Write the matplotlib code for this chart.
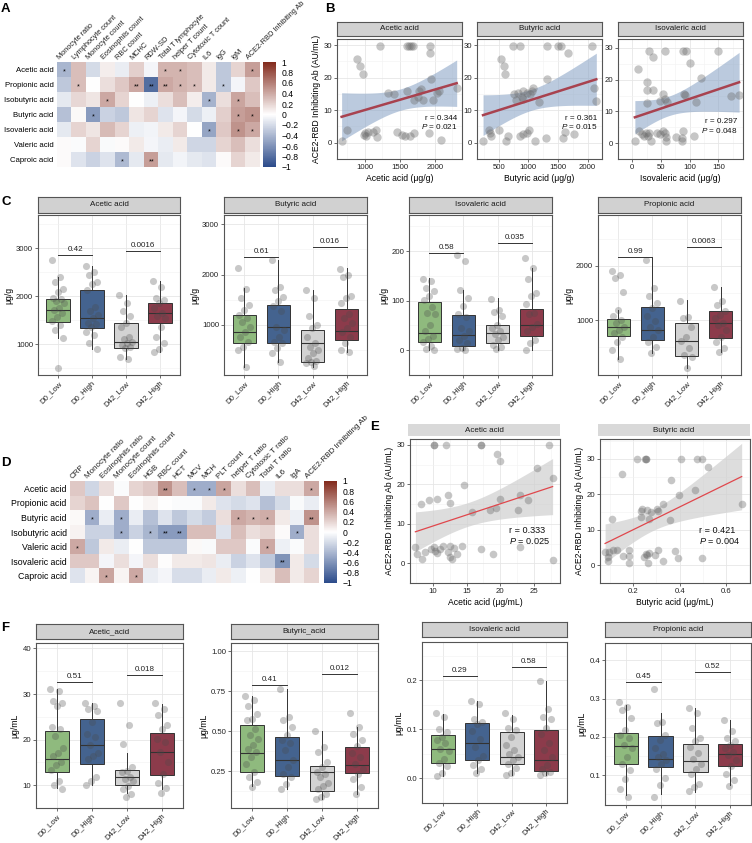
import numpy as np
import matplotlib
matplotlib.use('Agg')
import matplotlib.pyplot as plt
from matplotlib.colors import LinearSegmentedColormap

plt.rcParams['font.family'] = ['Liberation Sans', 'DejaVu Sans']
plt.rcParams['mathtext.fontset'] = 'custom'
plt.rcParams['mathtext.rm'] = 'Liberation Sans'
plt.rcParams['mathtext.it'] = 'Liberation Sans:italic'
plt.rcParams['axes.unicode_minus'] = True

W, H = 752, 843

##### DATA #####
# --- panel A: correlation heatmap (faecal SCFA vs. blood/immune markers)
a_rows = ["Acetic acid", "Propionic acid", "Isobutyric acid", "Butyric acid",
          "Isovaleric acid", "Valeric acid", "Caproic acid"]
a_cols = ["Monocyte ratio", "Lymphocyte count", "Monocyte count", "Eosinophils count",
          "RBC count", "MCHC", "RDW-SD", "Total T lymphocyte", "helper T count",
          "Cytotoxic T count", "IL6", "IgG", "IgM", "ACE2-RBD Inhibiting Ab"]
a_vals = [
    [-0.40, 0.30, -0.20, 0.08, -0.10, 0.22, -0.05, 0.35, 0.35, 0.30, 0.10, -0.30, 0.20, 0.45],
    [-0.30, 0.30, 0.00, 0.15, 0.25, 0.40, -0.80, 0.40, 0.35, 0.30, 0.10, -0.30, -0.05, 0.25],
    [-0.12, 0.18, 0.12, 0.40, 0.20, 0.00, -0.08, 0.15, 0.30, 0.08, -0.42, 0.15, 0.42, 0.30],
    [-0.35, 0.03, -0.55, -0.25, -0.30, 0.12, 0.20, -0.15, -0.05, -0.20, -0.08, 0.22, 0.45, 0.50],
    [-0.12, 0.20, 0.12, 0.32, 0.20, -0.08, -0.06, 0.10, 0.20, 0.00, -0.50, 0.25, 0.50, 0.40],
    [0.02, -0.02, 0.20, -0.03, 0.02, 0.10, -0.05, -0.10, 0.10, -0.22, -0.22, 0.20, 0.30, 0.15],
    [0.02, -0.15, -0.25, -0.15, -0.38, -0.12, 0.45, -0.12, -0.06, -0.12, -0.15, 0.02, 0.20, 0.10],
]
# number of stars per cell
a_stars = ["10000001100001", "01000222110100", "00010000001010", "00100000000011",
           "00000000001011", "00000000000000", "00001020000000"]

# --- panel B: faecal SCFA vs ACE2-RBD inhibiting Ab
b_acetic_x = [1218, 1609, 1637, 1661, 1685, 1932, 1932, 885, 933, 971, 1942, 2314, 1800, 1780,
              1327, 1418, 1600, 2037, 2066, 1704, 1837, 1971, 1766, 670, 751, 1004, 1018, 989,
              1052, 1123, 1161, 1180, 1466, 1527, 1576, 1646, 1709, 1918, 2085]
b_acetic_y = [29.8, 29.8, 29.8, 29.8, 29.8, 29.8, 27.6, 25.6, 23.7, 21.1, 19.5, 16.7, 16.4, 15.8,
              15.3, 14.9, 15.8, 15.2, 15.8, 13.1, 13.1, 13.1, 14.2, 0.6, 4.0, 3.1, 2.0, 2.5,
              3.4, 3.4, 3.8, 1.8, 3.4, 2.5, 2.0, 2.0, 2.9, 3.1, 0.9]
b_butyric_x = [732, 857, 1309, 1507, 1547, 2073, 1677, 545, 585, 602, 1309, 2102, 2147, 913,
               828, 970, 1055, 1083, 755, 789, 913, 1185, 885, 1026, 234, 336, 347, 375, 506,
               658, 630, 857, 902, 970, 1015, 1111, 1298, 1621, 1581, 1762]
b_butyric_y = [29.8, 29.8, 29.8, 29.8, 29.8, 29.8, 27.6, 25.6, 23.7, 21.1, 19.5, 16.7, 12.8, 15.8,
               15.2, 15.2, 16.0, 16.7, 14.9, 13.2, 13.4, 12.4, 14.2, 15.1, 0.6, 4.0, 3.1, 2.0, 3.8,
               2.0, 0.4, 2.2, 2.7, 3.1, 3.8, 0.6, 1.5, 3.4, 1.5, 2.7]
b_isoval_x = [29.6, 56.7, 89.0, 92.8, 150.0, 9.7, 36.7, 101.4, 25.9, 119.8, 25.9, 36.7, 52.8, 90.6,
              91.7, 56.7, 60.4, 48.6, 25.9, 110.6, 171.6, 186.2, 4.4, 10.8, 16.2, 20.5, 24.2,
              26.9, 29.6, 32.4, 43.2, 48.6, 52.8, 56.7, 58.3, 59.4, 75.6, 86.3, 87.4, 89.1, 107.7]
b_isoval_y = [29.1, 29.1, 29.1, 29.1, 29.1, 23.4, 27.0, 25.1, 19.2, 20.5, 16.6, 16.6, 15.6, 15.6,
              15.1, 13.9, 12.8, 13.2, 12.5, 12.8, 14.7, 15.1, 0.7, 3.8, 2.8, 2.4, 3.1,
              2.4, 3.3, 0.7, 3.1, 2.8, 3.8, 3.3, 1.9, 0.7, 1.9, 1.6, 0.7, 3.8, 2.4]
b_stats = ["r = 0.344\n$\\it{P}$ = 0.021", "r = 0.361\n$\\it{P}$ = 0.015", "r = 0.297\n$\\it{P}$ = 0.048"]

# --- box plot groups
groups = ["D0_Low", "D0_High", "D42_Low", "D42_High"]
# box stats: [q1, median, q3, whisker low, whisker high]
# --- panel C: faecal SCFA (ug/g)
c_acetic_box = [[1467, 1704, 1934, 1132, 2394], [1330, 1535, 2129, 888, 2631],
                [925, 1049, 1446, 679, 2025], [1430, 1645, 1855, 826, 2324]]
c_acetic_pts = [[2756, 2394, 2303, 2143, 2094, 1969, 1934, 1899, 1850, 1746, 1711, 1641, 1572, 1481, 1397, 1293, 1132, 505],
                [2631, 2512, 2443, 2303, 2248, 2129, 1781, 1697, 1606, 1551, 1446, 1418, 1362, 1244, 1188, 1014, 888],
                [2025, 1864, 1690, 1585, 1432, 1362, 1153, 1098, 1049, 1014, 979, 944, 909, 735, 679],
                [2324, 2199, 1955, 1920, 1850, 1746, 1655, 1585, 1537, 1349, 1153, 1014, 888, 826]]
c_acetic_sig = [2861, 2952]
c_acetic_p = ["0.42", "0.0016"]

c_butyric_box = [[636, 870, 1200, 170, 1730], [636, 965, 1400, 270, 2290],
                 [270, 650, 900, 170, 1700], [700, 880, 1320, 470, 2125]]
c_butyric_pts = [[2140, 1715, 1540, 1400, 1300, 1200, 1130, 1065, 965, 870, 770, 670, 570, 500, 170],
                 [2290, 1760, 1700, 1560, 1480, 1385, 1285, 965, 910, 770, 670, 636, 535, 440, 270],
                 [1700, 1530, 1180, 1000, 935, 770, 650, 570, 500, 440, 340, 290, 270, 240, 185],
                 [2110, 2000, 1950, 1575, 1530, 1430, 1210, 1130, 1030, 935, 870, 770, 636, 500, 455]]
c_butyric_sig = [2344, 2543]
c_butyric_p = ["0.61", "0.016"]

c_isoval_box = [[17, 35, 97, 0, 145], [8, 30, 72, 0, 122],
                [15, 35, 50, 0, 106], [28, 51, 84, 0, 166]]
c_isoval_pts = [[143, 140, 125, 119, 109, 102, 87, 76, 73, 50, 39, 29, 23, 17, 8, 2, 0],
                [193, 180, 122, 106, 90, 73, 67, 44, 38, 29, 21, 14, 5, 2, 0],
                [103, 81, 78, 69, 50, 44, 38, 32, 27, 20, 11, 7, 2],
                [186, 166, 143, 115, 109, 94, 76, 73, 53, 47, 38, 20, 14, 0]]
c_isoval_sig = [196, 217]
c_isoval_p = ["0.58", "0.035"]

c_propio_box = [[710, 877, 1020, 272, 1185], [630, 815, 1247, 383, 2140],
                [333, 617, 938, 105, 1370], [660, 938, 1167, 414, 1617]]
c_propio_pts = [[1907, 1833, 1772, 1525, 1185, 1074, 1000, 938, 877, 815, 753, 691, 599, 444, 272],
                [2111, 1599, 1444, 1309, 1216, 1074, 981, 877, 815, 691, 599, 506, 383],
                [1352, 1062, 1031, 877, 691, 617, 475, 352, 321, 105],
                [1617, 1352, 1278, 1173, 1093, 1031, 951, 907, 815, 691, 599, 475, 414]]
c_propio_sig = [2160, 2358]
c_propio_p = ["0.99", "0.0063"]

# --- panel D: plasma SCFA heatmap
d_rows = ["Acetic acid", "Propionic acid", "Butyric acid", "Isobutyric acid",
          "Valeric acid", "Isovaleric acid", "Caproic acid"]
d_cols = ["CRP", "Monocyte ratio", "Eosinophils ratio", "Monocyte count", "Eosinophils count",
          "HGB", "RBC count", "HCT", "MCV", "MCH", "PLT count", "helper T ratio",
          "Cytotoxic T ratio", "Total T ratio", "IL6", "IgA", "ACE2-RBD Inhibiting Ab"]
d_vals = [
    [0.25, -0.22, 0.15, -0.02, 0.20, 0.25, 0.50, 0.30, -0.45, -0.45, 0.42, 0.15, 0.30, -0.10, 0.15, 0.15, 0.40],
    [0.20, 0.28, 0.00, 0.25, 0.00, 0.05, 0.00, -0.02, -0.02, 0.10, -0.15, -0.20, -0.15, -0.35, -0.20, -0.03, -0.10],
    [0.03, -0.45, -0.10, -0.45, -0.10, -0.35, -0.15, -0.30, -0.20, -0.28, 0.15, 0.40, 0.35, 0.38, 0.10, -0.08, 0.50],
    [0.06, -0.25, -0.25, -0.45, -0.25, -0.40, -0.55, -0.55, 0.30, 0.30, -0.15, 0.30, 0.15, 0.20, 0.02, -0.45, 0.15],
    [0.40, -0.30, 0.10, -0.10, 0.00, -0.30, -0.30, -0.30, 0.03, -0.03, 0.25, 0.25, -0.02, 0.40, -0.08, -0.02, 0.15],
    [0.25, 0.25, -0.05, 0.15, -0.05, 0.15, 0.01, 0.10, 0.10, 0.12, -0.10, -0.25, -0.15, -0.30, -0.60, 0.10, -0.20],
    [-0.15, 0.05, 0.42, 0.05, 0.40, -0.10, -0.05, -0.18, -0.18, -0.10, 0.10, -0.08, 0.00, 0.10, 0.30, 0.10, 0.20],
]
d_stars = ["00000020111000001", "00000000000000000", "01010000000111002", "00010122000000010",
           "10000000000001000", "00000000000000200", "00101000000000000"]

# --- panel E: plasma SCFA vs ACE2-RBD inhibiting Ab
e_acetic_x = [10.1, 10.2, 12.0, 17.1, 17.2, 27.3, 19.6, 20.0, 25.5, 27.8, 14.7, 12.2, 23.0, 10.6,
              20.0, 24.2, 9.4, 8.3, 12.6, 15.8, 18.5, 19.4, 22.7, 7.4, 7.7, 8.4, 8.9, 9.7, 10.1,
              10.3, 10.6, 11.1, 11.5, 12.2, 12.5, 12.6, 12.8, 13.1, 13.6, 14.3, 17.1, 19.0, 23.0, 27.8]
e_acetic_y = [30, 30, 30, 30, 30, 30, 27.8, 25.9, 24.1, 21.5, 19.9, 17.3, 17.2, 16.4,
              16.2, 16.0, 16.0, 15.1, 15.4, 13.0, 13.4, 13.9, 13.4, 4.2, 2.3, 1.0, 2.9, 3.6, 4.0,
              3.2, 2.5, 3.5, 4.5, 2.9, 1.5, 4.5, 1.2, 3.8, 2.3, 4.5, 3.5, 2.3, 4.2, 0.8]
e_butyric_x = [0.214, 0.250, 0.255, 0.256, 0.406, 0.473, 0.495, 0.524, 0.150, 0.361, 0.466, 0.399,
               0.668, 0.327, 0.236, 0.301, 0.257, 0.232, 0.276, 0.308, 0.232, 0.269, 0.358, 0.106,
               0.078, 0.096, 0.114, 0.128, 0.092, 0.092, 0.157, 0.183, 0.183, 0.183, 0.253, 0.257,
               0.248, 0.269, 0.264, 0.294, 0.308, 0.329, 0.380, 0.394, 0.495]
e_butyric_y = [30, 30, 30, 30, 30, 30, 30, 27.8, 25.7, 24.1, 21.3, 19.8,
               17.2, 17.2, 16.0, 16.0, 15.6, 15.2, 15.0, 15.4, 13.7, 13.1, 12.8, 13.1,
               3.7, 3.7, 4.2, 4.4, 2.4, 1.1, 2.6, 4.3, 2.7, 0.7, 3.3, 2.9,
               2.4, 3.5, 0.5, 2.9, 4.2, 1.3, 3.9, 2.0, 2.0]
e_stats = ["r = 0.333\n$\\it{P}$ = 0.025", "r = 0.421\n$\\it{P}$ = 0.004"]

# --- panel F: plasma SCFA (ug/mL)
f_acetic_box = [[12.8, 15.8, 22.0, 9.4, 31.0], [14.7, 18.9, 24.5, 10.1, 28.1],
                [10.1, 11.9, 13.4, 8.3, 17.0], [12.2, 17.2, 21.5, 9.1, 27.8]]
f_acetic_pts = [[31.2, 30.6, 28.5, 28.1, 27.3, 22.7, 22.4, 20.9, 18.2, 17.0, 16.3, 15.2, 14.5, 13.4, 10.9, 10.1, 9.1],
                [28.1, 27.3, 26.7, 26.3, 23.8, 21.3, 20.6, 18.8, 17.0, 16.4, 15.7, 11.9, 10.9, 10.1],
                [28.1, 23.2, 19.1, 14.1, 13.2, 12.9, 11.9, 11.4, 10.9, 9.9, 9.1, 8.1, 7.4],
                [28.1, 26.7, 25.4, 23.2, 22.4, 20.1, 19.5, 17.3, 15.2, 12.4, 10.5, 9.4, 8.3]]
f_acetic_sig = [32.6, 34.2]
f_acetic_p = ["0.51", "0.018"]

f_butyric_box = [[0.246, 0.366, 0.537, 0.156, 0.718], [0.219, 0.319, 0.464, 0.142, 0.766],
                 [0.125, 0.244, 0.283, 0.080, 0.500], [0.240, 0.292, 0.402, 0.107, 0.527]]
f_butyric_pts = [[0.718, 0.693, 0.655, 0.610, 0.578, 0.568, 0.516, 0.475, 0.454, 0.412, 0.391, 0.370, 0.339, 0.298, 0.246, 0.215, 0.183, 0.152],
                 [0.766, 0.589, 0.568, 0.527, 0.475, 0.443, 0.427, 0.381, 0.319, 0.277, 0.235, 0.215, 0.173, 0.142],
                 [0.500, 0.402, 0.370, 0.308, 0.277, 0.246, 0.231, 0.215, 0.179, 0.158, 0.142, 0.111, 0.090, 0.080],
                 [0.614, 0.527, 0.485, 0.448, 0.406, 0.366, 0.339, 0.298, 0.267, 0.235, 0.204, 0.152, 0.107]]
f_butyric_sig = [0.786, 0.859]
f_butyric_p = ["0.41", "0.012"]

f_isoval_box = [[0.031, 0.059, 0.088, 0.005, 0.131], [0.037, 0.072, 0.112, 0.011, 0.158],
                [0.030, 0.043, 0.094, 0.008, 0.129], [0.016, 0.037, 0.098, 0.008, 0.199]]
f_isoval_pts = [[0.133, 0.125, 0.100, 0.094, 0.084, 0.078, 0.072, 0.059, 0.055, 0.040, 0.031, 0.025, 0.012, 0.005],
                [0.158, 0.152, 0.122, 0.115, 0.111, 0.096, 0.081, 0.064, 0.046, 0.037, 0.028, 0.019, 0.011],
                [0.133, 0.121, 0.102, 0.098, 0.084, 0.069, 0.058, 0.049, 0.043, 0.037, 0.030, 0.022, 0.011, 0.008],
                [0.199, 0.141, 0.125, 0.122, 0.102, 0.090, 0.072, 0.058, 0.043, 0.028, 0.019, 0.014, 0.011, 0.008]]
f_isoval_sig = [0.209, 0.227]
f_isoval_p = ["0.29", "0.58"]

f_propio_box = [[0.128, 0.177, 0.210, 0.048, 0.283], [0.122, 0.141, 0.203, 0.052, 0.261],
                [0.109, 0.137, 0.181, 0.057, 0.274], [0.124, 0.154, 0.181, 0.074, 0.243]]
f_propio_pts = [[0.291, 0.278, 0.270, 0.248, 0.217, 0.204, 0.196, 0.178, 0.170, 0.148, 0.130, 0.113, 0.091, 0.065, 0.043],
                [0.326, 0.239, 0.235, 0.204, 0.191, 0.170, 0.155, 0.148, 0.139, 0.130, 0.115, 0.093, 0.074, 0.043],
                [0.274, 0.263, 0.222, 0.196, 0.190, 0.174, 0.158, 0.141, 0.130, 0.117, 0.104, 0.078, 0.070, 0.059],
                [0.245, 0.215, 0.196, 0.190, 0.178, 0.170, 0.161, 0.152, 0.139, 0.124, 0.104, 0.087, 0.071]]
f_propio_sig = [0.342, 0.370]
f_propio_p = ["0.45", "0.52"]

##### STYLE #####
box_colors = ['#8FBA7E', '#44638F', '#D3D3D3', '#8C3B4B']
border_c = '#555555'
cmap = LinearSegmentedColormap.from_list('corr', ['#2B4B8A', '#FFFFFF', '#822A1C'])

fig = plt.figure(figsize=(W / 100, H / 100), dpi=100)


def add_ax(x0, y0, x1, y1):
    # pixel box (top-left origin) -> figure axes
    return fig.add_axes([x0 / W, 1 - y1 / H, (x1 - x0) / W, (y1 - y0) / H])


def strip(x0, y0, x1, y1, label, fc='#D1D1D1', edge=True):
    s = add_ax(x0, y0, x1, y1)
    s.set_facecolor(fc)
    s.set_xticks([])
    s.set_yticks([])
    for sp in s.spines.values():
        sp.set_visible(edge)
        sp.set_color(border_c)
        sp.set_linewidth(0.8)
    s.text(0.5, 0.5, label, ha='center', va='center', fontsize=5.8, color='#1A1A1A')


def style(ax, xminor=None, yminor=None):
    for sp in ax.spines.values():
        sp.set_color(border_c)
        sp.set_linewidth(0.8)
    if xminor is not None:
        ax.set_xticks(xminor, minor=True)
    if yminor is not None:
        ax.set_yticks(yminor, minor=True)
    ax.grid(which='major', color='#E6E6E6', lw=0.6)
    ax.grid(which='minor', color='#F2F2F2', lw=0.4)
    ax.set_axisbelow(True)
    ax.tick_params(which='major', labelsize=5.6, length=2, width=0.5, color='#333333',
                   pad=1.5, labelcolor='#222222')
    ax.tick_params(which='minor', length=0)


def midpoints(ticks, lim):
    step = ticks[1] - ticks[0]
    return np.arange(ticks[0] - step / 2, lim[1], step)


def heatmap(box, cbox, vals, stars, rows, cols, rfs, cfs):
    ax = add_ax(*box)
    im = ax.imshow(np.array(vals), cmap=cmap, vmin=-1, vmax=1, aspect='auto',
                   interpolation='nearest')
    ax.set_xticks([])
    ax.set_yticks(range(len(rows)))
    ax.set_yticklabels(rows, fontsize=rfs)
    ax.tick_params(axis='y', length=0, pad=2.5)
    for sp in ax.spines.values():
        sp.set_visible(False)
    for j, c in enumerate(cols):
        ax.text(j - 0.2, -0.55, c, rotation=45, ha='left', va='bottom',
                rotation_mode='anchor', fontsize=cfs, color='#222222')
    for i, row in enumerate(stars):
        for j, ch in enumerate(row):
            if ch != '0':
                ax.text(j, i + 0.15, '*' * int(ch), ha='center', va='center', fontsize=5.2)
    cax = add_ax(*cbox)
    cb = fig.colorbar(im, cax=cax, ticks=np.linspace(-1, 1, 11))
    labs = ['%g' % round(t, 1) for t in np.linspace(-1, 1, 11)]
    cb.ax.set_yticklabels([l.replace('-', '\u2212') for l in labs])
    cb.ax.tick_params(labelsize=6.2, length=2, width=0.5, color='white', pad=2)
    cb.outline.set_visible(False)


def fit_band(x, y):
    x = np.asarray(x, float)
    y = np.asarray(y, float)
    b, a = np.polyfit(x, y, 1)
    xs = np.linspace(x.min(), x.max(), 100)
    yh = a + b * xs
    n = len(x)
    s = np.sqrt(np.sum((y - (a + b * x)) ** 2) / (n - 2))
    se = s * np.sqrt(1 / n + (xs - x.mean()) ** 2 / np.sum((x - x.mean()) ** 2))
    return xs, yh, yh - 2.02 * se, yh + 2.02 * se


def scatter_panel(box, sbox, title, x, y, xlim, ylim, xticks, yticks, xlabel, ylabel,
                  stat, tpos, tha, lc, lw, bc, ba, scol, ssize, sfc, sedge, tfs, xtl=None):
    strip(*sbox, title, fc=sfc, edge=sedge)
    ax = add_ax(*box)
    ax.set_xlim(xlim)
    ax.set_ylim(ylim)
    ax.set_xticks(xticks)
    if xtl is not None:
        ax.set_xticklabels(xtl)
    ax.set_yticks(yticks)
    style(ax, midpoints(xticks, xlim), midpoints(yticks, ylim))
    xs, yh, lo, hi = fit_band(x, y)
    ax.fill_between(xs, lo, hi, color=bc, alpha=ba, lw=0, zorder=2)
    ax.scatter(x, y, s=ssize, color=scol, alpha=0.38, lw=0, zorder=3)
    ax.plot(xs, yh, color=lc, lw=lw, zorder=4)
    ax.text(tpos[0], tpos[1], stat, transform=ax.transAxes, ha=tha, va='center',
            multialignment=tha, fontsize=tfs, linespacing=1.05, color='#111111', zorder=5)
    ax.set_xlabel(xlabel, fontsize=6.2, labelpad=2)
    if ylabel:
        ax.set_ylabel(ylabel, fontsize=6.2, labelpad=2)
    return ax


def box_panel(box, sbox, title, stats, pts, sig, pvals, ylim, yticks, ylabel, ytl=None):
    strip(*sbox, title)
    ax = add_ax(*box)
    ax.set_xlim(0.4, 4.6)
    ax.set_ylim(ylim)
    ax.set_yticks(yticks)
    if ytl is not None:
        ax.set_yticklabels(ytl)
    style(ax, None, midpoints(yticks, ylim))
    bst = [dict(q1=s[0], med=s[1], q3=s[2], whislo=s[3], whishi=s[4], fliers=[]) for s in stats]
    bp = ax.bxp(bst, positions=[1, 2, 3, 4], widths=0.7, patch_artist=True, showcaps=False,
                boxprops=dict(lw=0.7, edgecolor='#333333'),
                medianprops=dict(color='#333333', lw=0.8),
                whiskerprops=dict(color='#333333', lw=0.7), zorder=2)
    for patch, c in zip(bp['boxes'], box_colors):
        patch.set_facecolor(c)
    for i, ys in enumerate(pts):
        k = np.arange(len(ys))
        offs = ((k * 0.618) % 1 - 0.5) * 0.38
        ax.scatter(i + 1 + offs, ys, s=26, color='#4A4A4A', alpha=0.3, lw=0, zorder=3)
    for (g0, g1), yb, p in zip([(1, 2), (3, 4)], sig, pvals):
        ax.plot([g0, g1], [yb, yb], color='#333333', lw=0.7, zorder=4)
        ax.annotate(p, ((g0 + g1) / 2, yb), xytext=(0, 1.5), textcoords='offset points',
                    ha='center', va='bottom', fontsize=5.8, color='#222222')
    ax.set_xticks([1, 2, 3, 4])
    ax.set_xticklabels(groups, rotation=45, ha='right', rotation_mode='anchor')
    ax.set_ylabel(ylabel, fontsize=6.2, labelpad=2)
    return ax


##### PANEL A #####
heatmap((57, 62, 260, 167), (263, 62, 276, 167), a_vals, a_stars, a_rows, a_cols, 5.6, 5.3)

##### PANEL B #####
yl_b = "ACE2-RBD Inhibiting Ab (AU/mL)"
bkw = dict(tha='right', lc='#A8424F', lw=1.8, bc='#8EA7C8', ba=0.6, scol='#6A6A6A', ssize=36,
           sfc='#D1D1D1', sedge=True, tfs=5.9)
scatter_panel((337, 39, 462, 159), (337, 22, 462, 36), "Acetic acid", b_acetic_x, b_acetic_y,
              (604, 2390), (-1.2, 31.9), [1000, 1500, 2000], [0, 10, 20, 30],
              "Acetic acid (\u03bcg/g)", yl_b, b_stats[0], (0.965, 0.30), **bkw)
scatter_panel((477, 39, 602, 159), (477, 22, 602, 36), "Butyric acid", b_butyric_x, b_butyric_y,
              (132, 2243), (-1.2, 31.9), [500, 1000, 1500, 2000], [0, 10, 20, 30],
              "Butyric acid (\u03bcg/g)", None, b_stats[1], (0.962, 0.30), **bkw)
scatter_panel((618, 39, 743, 159), (618, 22, 743, 36), "Isovaleric acid", b_isoval_x, b_isoval_y,
              (-6.5, 193), (-1.2, 32.8), [0, 50, 100, 150], [0, 10, 20, 30],
              "Isovaleric acid (\u03bcg/g)", None, b_stats[2], (0.958, 0.272), **bkw)

##### PANEL C #####
box_panel((38, 215, 180, 375), (38, 197, 180, 213), "Acetic acid", c_acetic_box, c_acetic_pts,
          c_acetic_sig, c_acetic_p, (352, 3697), [1000, 2000, 3000], "\u03bcg/g")
box_panel((224, 215, 367, 375), (224, 197, 367, 213), "Butyric acid", c_butyric_box, c_butyric_pts,
          c_butyric_sig, c_butyric_p, (6, 3185), [1000, 2000, 3000], "\u03bcg/g")
box_panel((409, 215, 552, 375), (409, 197, 552, 213), "Isovaleric acid", c_isoval_box, c_isoval_pts,
          c_isoval_sig, c_isoval_p, (-13, 273), [0, 100, 200], "\u03bcg/g")
box_panel((598, 215, 741, 375), (598, 197, 741, 213), "Propionic acid", c_propio_box, c_propio_pts,
          c_propio_sig, c_propio_p, (-18, 2944), [1000, 2000], "\u03bcg/g")

##### PANEL D #####
heatmap((70, 481, 319, 583), (324, 481, 337, 583), d_vals, d_stars, d_rows, d_cols, 6.3, 5.8)

##### PANEL E #####
ekw = dict(tha='left', lc='#E0474C', lw=0.9, bc='#CFCFCF', ba=0.7, scol='#6A6A6A', ssize=30,
           sfc='#D9D9D9', sedge=False, tfs=6.6)
scatter_panel((410, 439, 560, 583), (408, 424, 560, 436), "Acetic acid", e_acetic_x, e_acetic_y,
              (6.6, 28.9), (-0.9, 31.5), [10, 15, 20, 25], [0, 10, 20, 30],
              "Acetic acid (\u03bcg/mL)", yl_b, e_stats[0], (0.66, 0.326), **ekw)
scatter_panel((600, 439, 750, 583), (598, 424, 750, 436), "Butyric acid", e_butyric_x, e_butyric_y,
              (0.056, 0.704), (-1.9, 35.6), [0.2, 0.4, 0.6], [0, 10, 20, 30],
              "Butyric acid (\u03bcg/mL)", yl_b, e_stats[1], (0.66, 0.326),
              xtl=["0.2", "0.4", "0.6"], **ekw)

##### PANEL F #####
box_panel((36, 643, 183, 808), (36, 624, 183, 639), "Acetic_acid", f_acetic_box, f_acetic_pts,
          f_acetic_sig, f_acetic_p, (5.6, 41.2), [10, 20, 30, 40], "\u03bcg/mL")
box_panel((231, 643, 378, 808), (231, 624, 378, 639), "Butyric_acid", f_butyric_box, f_butyric_pts,
          f_butyric_sig, f_butyric_p, (0.021, 1.05), [0.25, 0.5, 0.75, 1.0], "\u03bcg/mL",
          ytl=["0.25", "0.50", "0.75", "1.00"])
box_panel((422, 642, 567, 803), (422, 622, 567, 637), "Isovaleric acid", f_isoval_box, f_isoval_pts,
          f_isoval_sig, f_isoval_p, (-0.007, 0.278), [0.0, 0.1, 0.2], "\u03bcg/mL",
          ytl=["0.0", "0.1", "0.2"])
box_panel((605, 643, 751, 805), (605, 622, 751, 637), "Propionic acid", f_propio_box, f_propio_pts,
          f_propio_sig, f_propio_p, (0.022, 0.445), [0.1, 0.2, 0.3, 0.4], "\u03bcg/mL",
          ytl=["0.1", "0.2", "0.3", "0.4"])

##### PANEL LETTERS #####
for lab, px, py in [("A", 1, 3), ("B", 325, 3), ("C", 1, 196), ("D", 1, 457),
                    ("E", 370, 421), ("F", 1, 622)]:
    fig.text(px / W, 1 - py / H, lab, fontsize=9.5, fontweight='bold', va='top', ha='left')

fig.savefig('out.png', dpi=100)
